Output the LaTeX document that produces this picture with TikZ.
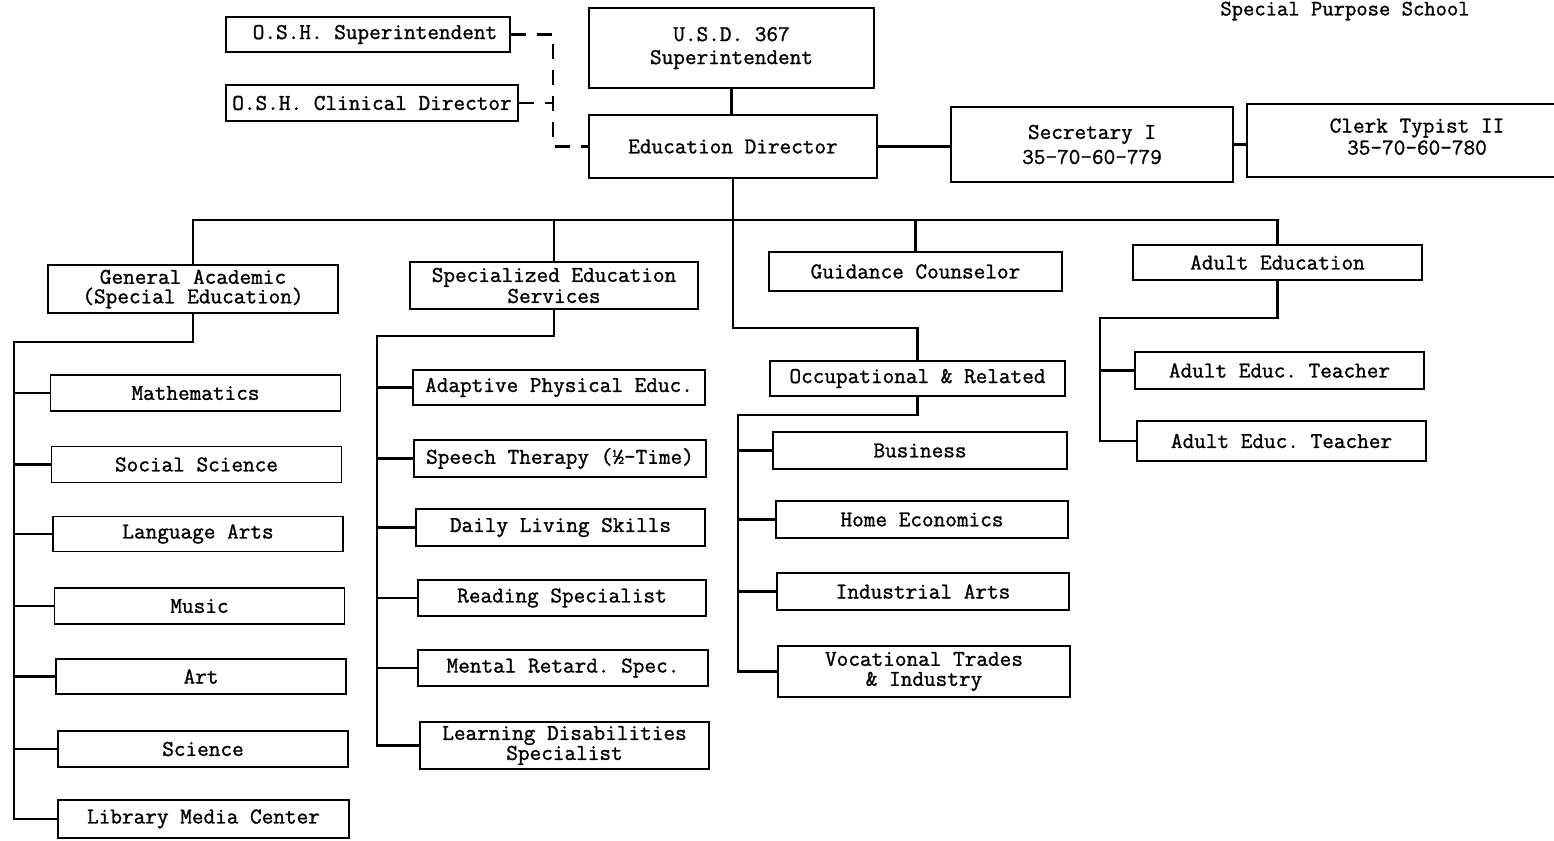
\documentclass[tikz,border=0pt]{standalone}
\usepackage{fontspec}
\setmonofont{Latin Modern Mono}[FakeBold=1.2]
\begin{document}
\begin{tikzpicture}[x=1pt,y=-1pt,
  box/.style={draw=black,line width=1.5pt,inner sep=0pt,align=center,
    font=\fontsize{22.6}{20}\selectfont\ttfamily},
  conn/.style={draw=black,line width=2.6pt,line cap=rect},
  dsh/.style={draw=black,line width=2.4pt,dash pattern=on 15pt off 11pt}]
\useasboundingbox[fill=white] (0,0) rectangle (1554,840);

% top
\node[box,minimum width=284,minimum height=35] (osh1) at (368,34.5) {\hspace*{14pt}O.S.H. Superintendent};
\node[box,minimum width=292,minimum height=36] (osh2) at (372,103) {O.S.H. Clinical Director};
\node[box,minimum width=285,minimum height=80,font=\fontsize{22.6}{23}\selectfont\ttfamily] (usd) at (731.5,48) {U.S.D. 367\\Superintendent};
\node[box,minimum width=288,minimum height=63] (edu) at (733,146.5) {Education Director};
\node[box,minimum width=282,minimum height=75,font=\fontsize{22.6}{25}\selectfont\ttfamily] (sec) at (1092,144.5) {Secretary I\\35-70-60-779};
\node[box,minimum width=340,minimum height=73,font=\fontsize{22.6}{22}\selectfont\ttfamily,text depth=8pt] (clerk) at (1417,140.5) {Clerk Typist II\\35-70-60-780};
\node[font=\fontsize{22}{22}\selectfont\ttfamily,inner sep=0pt] (spec) at (1345,11) {Special Purpose School};

% second level
\node[box,minimum width=290,minimum height=48,font=\fontsize{22.6}{19.5}\selectfont\ttfamily] (ga) at (193,289) {General Academic\\(Special Education)};
\node[box,minimum width=288,minimum height=47,font=\fontsize{22.6}{21}\selectfont\ttfamily] (ses) at (554,285.5) {Specialized Education\\Services};
\node[box,minimum width=293,minimum height=39] (gc) at (915.5,271.5) {Guidance Counselor};
\node[box,minimum width=289,minimum height=35] (ae) at (1277.5,262.5) {Adult Education};
\node[box,minimum width=295,minimum height=35] (occ) at (917.5,378.5) {Occupational \& Related};

% column 1
\node[box,minimum width=290,minimum height=36] (math) at (195.5,393) {Mathematics};
\node[box,minimum width=290,minimum height=36] (soc) at (196.5,464.5) {Social Science};
\node[box,minimum width=290,minimum height=35] (lang) at (198,534) {Language Arts};
\node[box,minimum width=290,minimum height=36] (mus) at (199.5,606) {Music};
\node[box,minimum width=290,minimum height=35] (art) at (201,676.5) {Art};
\node[box,minimum width=290,minimum height=36] (sci) at (203,749) {Science};
\node[box,minimum width=291,minimum height=38] (lib) at (203.5,819) {Library Media Center};

% column 2
\node[box,minimum width=292,minimum height=35] (ape) at (559,387.5) {Adaptive Physical Educ.};
\node[box,minimum width=292,minimum height=37] (spt) at (560,458.5) {Speech Therapy (\textonehalf-Time)};
\node[box,minimum width=289,minimum height=37] (dls) at (560.5,527.5) {Daily Living Skills};
\node[box,minimum width=288,minimum height=36] (rsp) at (562,598) {Reading Specialist};
\node[box,minimum width=290,minimum height=36] (mrs) at (563,668) {Mental Retard. Spec.};
\node[box,minimum width=289,minimum height=47] (lds) at (564.5,745.5) {Learning Disabilities\\Specialist};

% column 3
\node[box,minimum width=294,minimum height=37] (bus) at (920,450.5) {Business};
\node[box,minimum width=292,minimum height=37] (home) at (922,519.5) {Home Economics};
\node[box,minimum width=292,minimum height=37] (ind) at (923,591.5) {Industrial Arts};
\node[box,minimum width=292,minimum height=51] (voc) at (924,671.5) {Vocational Trades\\\& Industry};

% column 4
\node[box,minimum width=289,minimum height=37] (aet1) at (1279.5,370.5) {Adult Educ. Teacher};
\node[box,minimum width=289,minimum height=40] (aet2) at (1281.5,441) {Adult Educ. Teacher};

% helper coordinates
\coordinate (busy) at (0,220);
\coordinate (occj) at (0,328);
\coordinate (dk) at (553,0);
\coordinate (c1) at (14,342);
\coordinate (c2) at (377,336);
\coordinate (c3) at (738,415);
\coordinate (c4) at (1100,318);

% dashed advisory lines
\draw[dsh] (osh1.east) -- (osh1.east -| dk) -- (dk |- edu.west) -- (edu.west);
\draw[dsh] (osh2.east) -- (osh2.east -| dk);

% main connectors
\draw[conn] (usd.south) -- (usd.south |- edu.north);
\draw[conn] (edu.east) -- (edu.east -| sec.west);
\draw[conn] (sec.east) -- (sec.east -| clerk.west);
\draw[conn] (ga.north) -- (ga.north |- busy) -- (ae.north |- busy) -- (ae.north);
\draw[conn] (ses.north) -- (ses.north |- busy);
\draw[conn] (gc.north) -- (gc.north |- busy);
\draw[conn] (edu.south) -- (edu.south |- occj) -| (occ.north);

% column 1
\draw[conn] (ga.south) |- (c1) -- (c1 |- lib.west) -- (lib.west);
\foreach \n in {math,soc,lang,mus,art,sci} \draw[conn] (c1 |- \n.west) -- (\n.west);
% column 2
\draw[conn] (ses.south) |- (c2) -- (c2 |- lds.west) -- (lds.west);
\foreach \n in {ape,spt,dls,rsp,mrs} \draw[conn] (c2 |- \n.west) -- (\n.west);
% column 3
\draw[conn] (occ.south) |- (c3) -- (c3 |- voc.west) -- (voc.west);
\foreach \n in {bus,home,ind} \draw[conn] (c3 |- \n.west) -- (\n.west);
% column 4
\draw[conn] (ae.south) |- (c4) -- (c4 |- aet2.west) -- (aet2.west);
\draw[conn] (c4 |- aet1.west) -- (aet1.west);
\end{tikzpicture}
\end{document}
